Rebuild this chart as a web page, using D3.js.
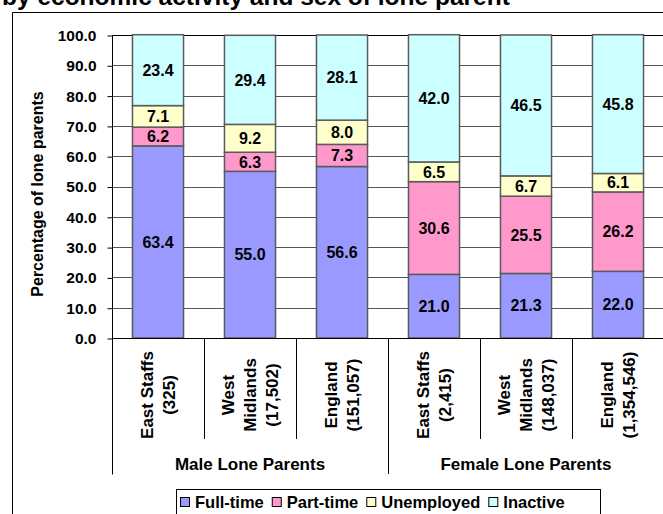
<!DOCTYPE html>
<html>
<head>
<meta charset="utf-8">
<script src="https://cdn.jsdelivr.net/npm/d3@7.9.0/dist/d3.min.js"></script>
<style>
  html, body { margin: 0; padding: 0; background: #fff; overflow: hidden; }
  svg { display: block; font-family: "Liberation Sans", Arial, sans-serif; font-weight: bold; }
</style>
</head>
<body>
<svg id="chart" width="663" height="514"></svg>
<script>
const titleText = "by economic activity and sex of lone parent";
const yTitle = "Percentage of lone parents";

const categoryLabels = [
  ["East Staffs", "(325)"],
  ["West", "Midlands", "(17,502)"],
  ["England", "(151,057)"],
  ["East Staffs", "(2,415)"],
  ["West", "Midlands", "(148,037)"],
  ["England", "(1,354,546)"],
];
const groups = ["Male Lone Parents", "Female Lone Parents"];
const seriesNames = ["Full-time", "Part-time", "Unemployed", "Inactive"];
const seriesColors = ["#9999FF", "#FF99CC", "#FFFFCC", "#CCFFFF"];

const fullTime = [63.4, 55.0, 56.6, 21.0, 21.3, 22.0];
const partTime = [6.2, 6.3, 7.3, 30.6, 25.5, 26.2];
const unemployed = [7.1, 9.2, 8.0, 6.5, 6.7, 6.1];
const inactive = [23.4, 29.4, 28.1, 42.0, 46.5, 45.8];

const yTickValues = [0, 10, 20, 30, 40, 50, 60, 70, 80, 90, 100];

const svg = d3.select("#chart");
const plotLeft = 112, plotRight = 664, plotTop = 35, plotBottom = 338;

const rows = categoryLabels.map((c, i) => ({
  key: i,
  "Full-time": fullTime[i],
  "Part-time": partTime[i],
  "Unemployed": unemployed[i],
  "Inactive": inactive[i],
}));
const stacked = d3.stack().keys(seriesNames)(rows);

const x = d3.scaleBand().domain(d3.range(categoryLabels.length)).range([plotLeft, plotRight]).padding(0);
const y = d3.scaleLinear().domain([0, 100]).range([plotBottom, plotTop]);
const barW = x.bandwidth() * 0.555;
const color = d3.scaleOrdinal().domain(seriesNames).range(seriesColors);

// outer frame
svg.append("path")
  .attr("d", "M12.5,520 V12.5 H670")
  .attr("fill", "none").attr("stroke", "#000");

// title (cut off at top, as in the source)
svg.append("text")
  .attr("x", 2).attr("y", 5)
  .attr("font-size", 24.5)
  .text(titleText);

// gridlines
svg.append("g")
  .selectAll("line")
  .data(yTickValues.filter(d => d > 0))
  .join("line")
  .attr("x1", plotLeft).attr("x2", plotRight)
  .attr("y1", d => Math.round(y(d)) + 0.5).attr("y2", d => Math.round(y(d)) + 0.5)
  .attr("stroke", d => d === 100 ? "#000" : "#555");

// y axis
const yAxis = svg.append("g")
  .attr("transform", `translate(${plotLeft + 0.5},0.5)`)
  .call(d3.axisLeft(y).tickValues(yTickValues).tickFormat(d3.format(".1f")).tickSize(5).tickPadding(11));
yAxis.select(".domain").attr("stroke", "#000").attr("d", `M0,${y(100)}V${474}`);
yAxis.selectAll(".tick line").attr("stroke", "#000");
yAxis.selectAll(".tick text")
  .attr("font-size", 15.5).attr("font-family", "Liberation Sans, Arial, sans-serif")
  .attr("font-weight", "bold").attr("fill", "#000");

svg.append("text")
  .attr("transform", "translate(43,194) rotate(-90)")
  .attr("text-anchor", "middle")
  .attr("font-size", 16)
  .text(yTitle);

// bars
const layers = svg.append("g")
  .selectAll("g")
  .data(stacked)
  .join("g")
  .attr("fill", d => color(d.key));

layers.selectAll("rect")
  .data(d => d)
  .join("rect")
  .attr("x", d => x(d.data.key) + (x.bandwidth() - barW) / 2)
  .attr("y", d => y(d[1]))
  .attr("width", barW)
  .attr("height", d => y(d[0]) - y(d[1]))
  .attr("stroke", "#5a5a5a")
  .attr("stroke-width", 1.5);

// value labels
layers.selectAll("text")
  .data(d => d.map(v => ({ v, key: d.key })))
  .join("text")
  .attr("x", d => x(d.v.data.key) + x.bandwidth() / 2)
  .attr("y", d => (y(d.v[0]) + y(d.v[1])) / 2)
  .attr("dy", "0.36em")
  .attr("text-anchor", "middle")
  .attr("font-size", 16)
  .attr("fill", "#000")
  .text(d => d3.format(".1f")(d.v.data[d.key]));

// x axis line
svg.append("line")
  .attr("x1", plotLeft).attr("x2", plotRight)
  .attr("y1", plotBottom + 0.5).attr("y2", plotBottom + 0.5)
  .attr("stroke", "#000");

// category dividers
const boundaries = d3.range(categoryLabels.length + 1);
svg.append("g")
  .selectAll("line")
  .data(boundaries)
  .join("line")
  .attr("x1", i => Math.round(plotLeft + i * x.step()) + 0.5)
  .attr("x2", i => Math.round(plotLeft + i * x.step()) + 0.5)
  .attr("y1", plotBottom)
  .attr("y2", i => i % 3 === 0 ? 474 : 439)
  .attr("stroke", "#000");

// category labels
const catText = svg.append("g")
  .selectAll("text")
  .data(categoryLabels)
  .join("text")
  .attr("transform", (d, i) => `translate(${x(i) + x.bandwidth() / 2},395) rotate(-90)`)
  .attr("text-anchor", "middle")
  .attr("font-size", 17);
catText.selectAll("tspan")
  .data(d => d.map((t, j) => ({ t, j, n: d.length })))
  .join("tspan")
  .attr("x", 0)
  .attr("y", d => (d.j - (d.n - 1) / 2) * 22)
  .attr("dy", "0.36em")
  .text(d => d.t);

// group labels
svg.append("g")
  .selectAll("text")
  .data(groups)
  .join("text")
  .attr("x", (d, i) => plotLeft + (i + 0.5) * 3 * x.step())
  .attr("y", 470)
  .attr("text-anchor", "middle")
  .attr("font-size", 17)
  .text(d => d);

// legend
const legend = svg.append("g");
legend.append("rect")
  .attr("x", 176.5).attr("y", 489.5)
  .attr("width", 424).attr("height", 30)
  .attr("fill", "#fff").attr("stroke", "#000");
let lx = 180;
seriesNames.forEach((name, i) => {
  legend.append("rect")
    .attr("x", lx + 0.5).attr("y", 497.5)
    .attr("width", 9).attr("height", 9)
    .attr("fill", seriesColors[i]).attr("stroke", "#000");
  const t = legend.append("text")
    .attr("x", lx + 15).attr("y", 508)
    .attr("font-size", 16.5)
    .text(name);
  lx += 15 + t.node().getComputedTextLength() + 8;
});
</script>
</body>
</html>
